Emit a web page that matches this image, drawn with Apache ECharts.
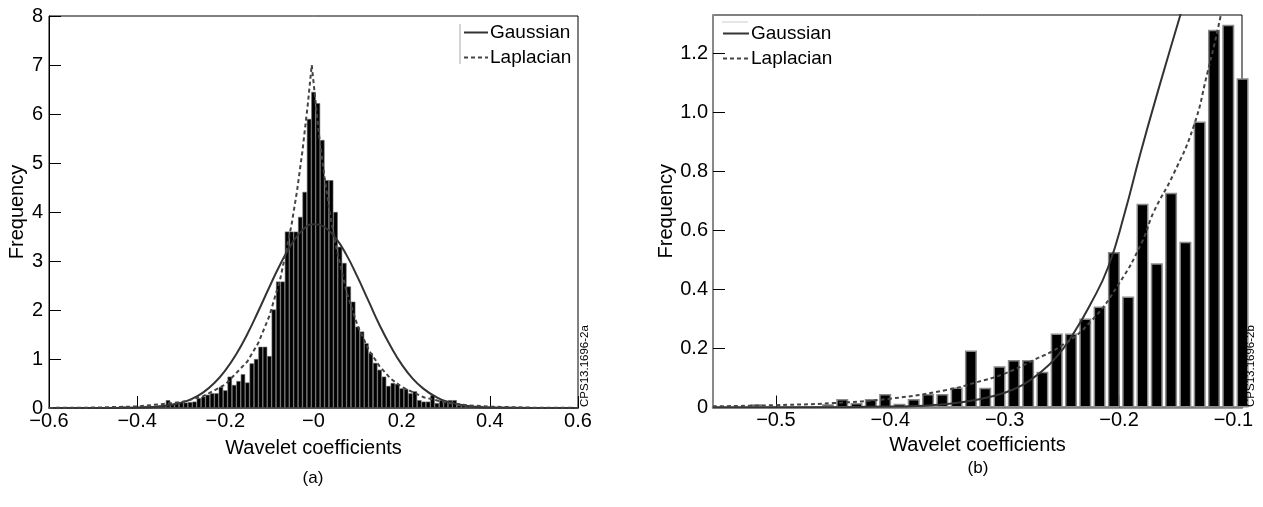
<!DOCTYPE html>
<html>
<head>
<meta charset="utf-8">
<script src="https://cdn.jsdelivr.net/npm/echarts@6/dist/echarts.min.js"></script>
<style>
  html, body { margin: 0; padding: 0; background: #fff; }
  #main { width: 1263px; height: 507px; }
</style>
</head>
<body>
<div id="main"></div>
<script>
// (a) histogram of wavelet coefficients, bins of 0.01
var aBinCenters = [-0.46, -0.45, -0.44, -0.43, -0.42, -0.41, -0.40, -0.39, -0.38, -0.37,
  -0.36, -0.35, -0.34, -0.33, -0.32, -0.31, -0.30, -0.29, -0.28, -0.27,
  -0.26, -0.25, -0.24, -0.23, -0.22, -0.21, -0.20, -0.19, -0.18, -0.17,
  -0.16, -0.15, -0.14, -0.13, -0.12, -0.11, -0.10, -0.09, -0.08, -0.07,
  -0.06, -0.05, -0.04, -0.03, -0.02, -0.01, 0.00, 0.01, 0.02, 0.03,
  0.04, 0.05, 0.06, 0.07, 0.08, 0.09, 0.10, 0.11, 0.12, 0.13,
  0.14, 0.15, 0.16, 0.17, 0.18, 0.19, 0.20, 0.21, 0.22, 0.23,
  0.24, 0.25, 0.26, 0.27, 0.28, 0.29, 0.30, 0.31, 0.32, 0.33,
  0.34, 0.35, 0.36, 0.37, 0.38, 0.39, 0.40, 0.41, 0.42, 0.43,
  0.44, 0.45, 0.46, 0.47];
var aFreq = [0.02, 0.01, 0.02, 0.03, 0.02, 0.02, 0.02, 0.03, 0.04, 0.04,
  0.04, 0.05, 0.06, 0.16, 0.07, 0.10, 0.12, 0.11, 0.12, 0.13,
  0.20, 0.23, 0.27, 0.30, 0.30, 0.43, 0.36, 0.64, 0.47, 0.55,
  0.69, 0.52, 0.91, 1.00, 1.25, 1.25, 1.06, 2.01, 2.58, 2.58,
  3.60, 3.60, 3.60, 3.90, 4.41, 5.90, 6.45, 6.22, 5.47, 4.65,
  4.65, 4.00, 3.29, 2.96, 2.48, 2.17, 1.66, 1.56, 1.32, 1.12,
  0.92, 0.78, 0.64, 0.45, 0.51, 0.49, 0.40, 0.39, 0.30, 0.34,
  0.16, 0.13, 0.13, 0.26, 0.10, 0.16, 0.13, 0.16, 0.16, 0.06,
  0.05, 0.05, 0.04, 0.04, 0.04, 0.03, 0.03, 0.02, 0.02, 0.02,
  0.02, 0.02, 0.01, 0.01];

var aGaussX = [-0.6, -0.5, -0.45, -0.4, -0.35, -0.3, -0.275, -0.25, -0.225, -0.2, -0.175, -0.15,
  -0.125, -0.1, -0.075, -0.05, -0.025, 0, 0.025, 0.05, 0.075, 0.1, 0.125, 0.15, 0.175, 0.2,
  0.225, 0.25, 0.275, 0.3, 0.35, 0.4, 0.5, 0.6];
var aGaussY = [0, 0, 0.002, 0.008, 0.03, 0.11, 0.19, 0.32, 0.51, 0.77, 1.10, 1.51,
  1.98, 2.47, 2.94, 3.34, 3.63, 3.75, 3.69, 3.47, 3.12, 2.67, 2.18, 1.69, 1.26, 0.89,
  0.60, 0.39, 0.24, 0.14, 0.04, 0.01, 0, 0];

var aLapX = [-0.6, -0.5, -0.4, -0.3, -0.25, -0.2, -0.15, -0.125, -0.1, -0.075, -0.05, -0.0375,
  -0.025, -0.0125, -0.004, 0.0125, 0.025, 0.0375, 0.05, 0.075, 0.1, 0.125, 0.15, 0.175, 0.2,
  0.25, 0.3, 0.35, 0.4, 0.5, 0.6];
var aLapY = [0.002, 0.008, 0.031, 0.12, 0.24, 0.48, 0.95, 1.33, 1.88, 2.65, 3.73, 4.42,
  5.25, 6.23, 7.0, 5.58, 4.71, 3.96, 3.34, 2.37, 1.68, 1.19, 0.85, 0.60, 0.43,
  0.22, 0.11, 0.055, 0.028, 0.007, 0.002];

// (b) zoom on the left tail, bins of 0.0125
var bBinCenters = [-0.517, -0.5045, -0.492, -0.4795, -0.467, -0.4545, -0.442, -0.4295, -0.417,
  -0.4045, -0.392, -0.3795, -0.367, -0.3545, -0.342, -0.3295, -0.317, -0.3045, -0.292,
  -0.2795, -0.267, -0.2545, -0.242, -0.2295, -0.217, -0.2045, -0.192, -0.1795, -0.167,
  -0.1545, -0.142, -0.1295, -0.117, -0.1045, -0.092];
var bFreq = [0.011, 0, 0, 0, 0, 0.011, 0.029, 0.015, 0.029,
  0.046, 0.013, 0.029, 0.046, 0.046, 0.068, 0.193, 0.067, 0.14, 0.161,
  0.161, 0.121, 0.251, 0.251, 0.302, 0.342, 0.527, 0.376, 0.69, 0.489,
  0.728, 0.562, 0.969, 1.28, 1.297, 1.116];

var bGaussX = [-0.555, -0.45, -0.4, -0.35, -0.32, -0.3, -0.285, -0.2716, -0.255, -0.24, -0.225,
  -0.2094, -0.195, -0.1814, -0.1639, -0.1464, -0.135];
var bGaussY = [0, 0.001, 0.003, 0.012, 0.03, 0.05, 0.075, 0.11, 0.17, 0.25, 0.35,
  0.477, 0.66, 0.86, 1.1, 1.33, 1.48];

var bLapX = [-0.555, -0.5, -0.45, -0.4, -0.35, -0.325, -0.3, -0.275, -0.25, -0.225, -0.2,
  -0.18, -0.17, -0.1525, -0.135, -0.123, -0.111, -0.1];
var bLapY = [0.004, 0.008, 0.015, 0.03, 0.06, 0.085, 0.115, 0.16, 0.21, 0.29, 0.42,
  0.56, 0.66, 0.79, 0.95, 1.13, 1.33, 1.55];

var bXTicks = [-0.5, -0.4, -0.3, -0.2, -0.1];
var bYTicks = [0, 0.2, 0.4, 0.6, 0.8, 1.0, 1.2];

function zip(xs, ys) {
  return xs.map(function (x, i) { return [x, ys[i]]; });
}

var FONT = '"Liberation Sans", Arial, sans-serif';
var labelStyle = { color: '#000', fontSize: 20, fontFamily: FONT };
var nameStyle = { color: '#000', fontSize: 20, fontFamily: FONT };

function minusFmt(v) {
  if (Math.abs(v) < 1e-9) return '\u22120';
  return (v < 0 ? '\u2212' : '') + Math.abs(v).toFixed(1);
}

var chart = echarts.init(document.getElementById('main'), null, { renderer: 'canvas' });

// legend: line only, the point symbol is hidden
var legendBase = {
  data: ['Gaussian', 'Laplacian'], orient: 'vertical',
  padding: 0, itemWidth: 24, itemHeight: 2, itemGap: 6,
  itemStyle: { opacity: 0 },
  textStyle: { color: '#000', fontSize: 19, fontFamily: FONT, padding: [0, 0, 0, -3] }
};

var option = {
  animation: false,
  backgroundColor: '#fff',
  textStyle: { fontFamily: FONT },
  grid: [
    { left: 49, top: 16, width: 529, height: 392, show: true, borderColor: '#000', borderWidth: 1 },
    { left: 713, top: 15, width: 529, height: 392.5, show: true, borderColor: '#000', borderWidth: 1 }
  ],
  xAxis: [
    {
      gridIndex: 0, type: 'value', min: -0.6, max: 0.6, interval: 0.2,
      name: 'Wavelet coefficients', nameLocation: 'middle', nameGap: 30, nameTextStyle: nameStyle,
      axisLine: { show: true, onZero: false, lineStyle: { color: '#555', width: 2 } },
      axisTick: { show: true, inside: true, length: 12, lineStyle: { color: '#000' } },
      axisLabel: Object.assign({ margin: 3, formatter: minusFmt }, labelStyle),
      splitLine: { show: false }
    },
    {
      gridIndex: 1, type: 'value', min: -0.555, max: -0.0925,
      name: 'Wavelet coefficients', nameLocation: 'middle', nameGap: 28, nameTextStyle: nameStyle,
      axisLine: { show: true, onZero: false, lineStyle: { color: '#777', width: 2.5 } },
      axisTick: { show: true, inside: true, length: 12, customValues: bXTicks, lineStyle: { color: '#000' } },
      axisLabel: Object.assign({ margin: 3, customValues: bXTicks, formatter: minusFmt }, labelStyle),
      splitLine: { show: false }
    }
  ],
  yAxis: [
    {
      gridIndex: 0, type: 'value', min: 0, max: 8, interval: 1,
      name: 'Frequency', nameLocation: 'middle', nameRotate: 90, nameGap: 22, nameTextStyle: nameStyle,
      axisLine: { show: true, onZero: false, lineStyle: { color: '#000', width: 1 } },
      axisTick: { show: true, inside: true, length: 12, lineStyle: { color: '#000' } },
      axisLabel: Object.assign({ margin: 6, formatter: function (v) { return String(Math.round(v)); } }, labelStyle),
      splitLine: { show: false }
    },
    {
      gridIndex: 1, type: 'value', min: 0, max: 1.33,
      name: 'Frequency', nameLocation: 'middle', nameRotate: 90, nameGap: 36, nameTextStyle: nameStyle,
      axisLine: { show: true, onZero: false, lineStyle: { color: '#888', width: 2 } },
      axisTick: { show: true, inside: true, length: 12, customValues: bYTicks, lineStyle: { color: '#000' } },
      axisLabel: Object.assign({
        margin: 5, customValues: bYTicks,
        formatter: function (v) { return v === 0 ? '0' : v.toFixed(1); }
      }, labelStyle),
      splitLine: { show: false }
    }
  ],
  legend: [
    Object.assign({ left: 463, top: 23 }, legendBase),
    Object.assign({ left: 722, top: 24 }, legendBase, { itemWidth: 26 })
  ],
  graphic: [
    { type: 'line', z: 100, shape: { x1: 460, y1: 24, x2: 460, y2: 64 }, style: { stroke: '#aaa', lineWidth: 1 } },
    { type: 'line', z: 100, shape: { x1: 722, y1: 22, x2: 748, y2: 22 }, style: { stroke: '#ccc', lineWidth: 1 } },
    { type: 'text', z: 100, x: 313, y: 478, style: { text: '(a)', font: '17px ' + FONT, fill: '#000', textAlign: 'center', textVerticalAlign: 'middle' } },
    { type: 'text', z: 100, x: 978, y: 468, style: { text: '(b)', font: '17px ' + FONT, fill: '#000', textAlign: 'center', textVerticalAlign: 'middle' } },
    { type: 'text', z: 100, x: 585, y: 407, rotation: Math.PI / 2, style: { text: 'CPS13.1696-2a', font: '11.5px ' + FONT, fill: '#000', textAlign: 'left', textVerticalAlign: 'middle' } },
    { type: 'text', z: 100, x: 1251, y: 407, rotation: Math.PI / 2, style: { text: 'CPS13.1696-2b', font: '11.5px ' + FONT, fill: '#000', textAlign: 'left', textVerticalAlign: 'middle' } }
  ],
  series: [
    {
      type: 'bar', xAxisIndex: 0, yAxisIndex: 0, barWidth: 4.41,
      data: zip(aBinCenters, aFreq),
      itemStyle: { color: '#000', borderColor: '#666', borderWidth: 0.6 }, z: 2
    },
    {
      name: 'Gaussian', type: 'line', xAxisIndex: 0, yAxisIndex: 0, symbol: 'none', smooth: true,
      data: zip(aGaussX, aGaussY), color: '#333',
      lineStyle: { color: '#333', width: 2 }, z: 3
    },
    {
      name: 'Laplacian', type: 'line', xAxisIndex: 0, yAxisIndex: 0, symbol: 'none',
      data: zip(aLapX, aLapY), color: '#444',
      lineStyle: { color: '#444', width: 2, type: [4, 3] }, z: 3
    },
    {
      type: 'bar', xAxisIndex: 1, yAxisIndex: 1, barWidth: 12,
      data: zip(bBinCenters, bFreq),
      itemStyle: { color: '#000', borderColor: '#8a8a8a', borderWidth: 1.5 }, z: 2
    },
    {
      name: 'Gaussian', type: 'line', xAxisIndex: 1, yAxisIndex: 1, symbol: 'none', smooth: true,
      data: zip(bGaussX, bGaussY), color: '#333',
      lineStyle: { color: '#333', width: 2 }, z: 3
    },
    {
      name: 'Laplacian', type: 'line', xAxisIndex: 1, yAxisIndex: 1, symbol: 'none', smooth: true,
      data: zip(bLapX, bLapY), color: '#444',
      lineStyle: { color: '#444', width: 2, type: [4, 3] }, z: 3
    }
  ]
};

chart.setOption(option);
</script>
</body>
</html>
